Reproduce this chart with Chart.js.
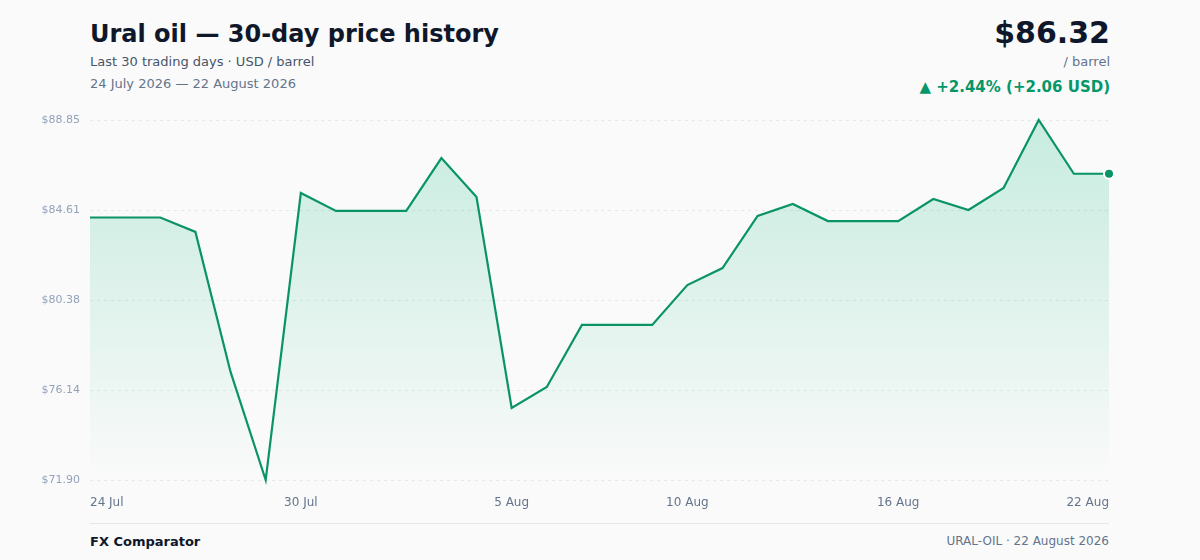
<!DOCTYPE html>
<html>
<head>
<meta charset="utf-8">
<script src="https://cdn.jsdelivr.net/npm/chart.js@4"></script>
<style>
  html, body { margin: 0; padding: 0; }
  body {
    width: 1200px; height: 560px; background: #fafafa; position: relative; overflow: hidden;
    font-family: "DejaVu Sans", sans-serif;
  }
  .title { position: absolute; left: 90px; top: 20px; font-size: 24px; font-weight: bold; color: #0f172a; }
  .sub { position: absolute; left: 90px; top: 54px; font-size: 13px; color: #475569; }
  .range { position: absolute; left: 90px; top: 76px; font-size: 13px; color: #64748b; }
  .price { position: absolute; right: 90px; top: 15px; font-size: 30px; font-weight: bold; color: #0f172a; }
  .unit { position: absolute; right: 90px; top: 54px; font-size: 13px; color: #64748b; }
  .change { position: absolute; right: 90px; top: 78px; font-size: 15px; font-weight: bold; color: #059669; }
  .chartBox { position: absolute; left: 0; top: 100px; width: 1200px; height: 420px; }
  .footer { position: absolute; left: 90px; width: 1019px; top: 523px; border-top: 1px solid #e5e7eb; }
  .brand { position: absolute; left: 0; top: 10px; font-size: 13px; font-weight: bold; color: #0f172a; }
  .stamp { position: absolute; right: 0; top: 10px; font-size: 12px; color: #64748b; }
</style>
</head>
<body>
  <div class="title">Ural oil — 30-day price history</div>
  <div class="sub">Last 30 trading days · USD / barrel</div>
  <div class="range">24 July 2026 — 22 August 2026</div>
  <div class="price">$86.32</div>
  <div class="unit">/ barrel</div>
  <div class="change">▲ +2.44% (+2.06 USD)</div>
  <div class="chartBox"><canvas id="priceChart"></canvas></div>
  <div class="footer">
    <div class="brand">FX Comparator</div>
    <div class="stamp">URAL-OIL · 22 August 2026</div>
  </div>

<script>
  // Data
  const days = [
    "24 Jul", "25 Jul", "26 Jul", "27 Jul", "28 Jul", "29 Jul", "30 Jul", "31 Jul",
    "1 Aug", "2 Aug", "3 Aug", "4 Aug", "5 Aug", "6 Aug", "7 Aug", "8 Aug", "9 Aug",
    "10 Aug", "11 Aug", "12 Aug", "13 Aug", "14 Aug", "15 Aug", "16 Aug", "17 Aug",
    "18 Aug", "19 Aug", "20 Aug", "21 Aug", "22 Aug"
  ];
  const prices = [
    84.26, 84.26, 84.26, 83.58, 76.99, 71.90, 85.41, 84.57, 84.57, 84.57,
    87.06, 85.22, 75.29, 76.28, 79.20, 79.20, 79.20, 81.08, 81.88, 84.33,
    84.90, 84.09, 84.09, 84.09, 85.13, 84.61, 85.65, 88.85, 86.32, 86.32
  ];
  const shownLabels = ["24 Jul", "30 Jul", "5 Aug", "10 Aug", "16 Aug", "22 Aug"];

  const GREEN = "#0a9465";
  const lo = Math.min(...prices);
  const hi = Math.max(...prices);

  const ctx = document.getElementById("priceChart").getContext("2d");

  new Chart(ctx, {
    type: "line",
    data: {
      labels: days,
      datasets: [{
        data: prices,
        borderColor: GREEN,
        borderWidth: 2.2,
        tension: 0,
        fill: "start",
        backgroundColor: (c) => {
          const area = c.chart.chartArea;
          if (!area) return "rgba(16,185,129,0.15)";
          const g = c.chart.ctx.createLinearGradient(0, area.top, 0, area.bottom);
          g.addColorStop(0, "rgba(16,185,129,0.22)");
          g.addColorStop(1, "rgba(16,185,129,0.0)");
          return g;
        },
        pointRadius: prices.map((_, i) => i === prices.length - 1 ? 5 : 0),
        pointBackgroundColor: GREEN,
        pointBorderColor: "#ffffff",
        pointBorderWidth: 2,
        clip: false
      }]
    },
    options: {
      responsive: true,
      maintainAspectRatio: false,
      animation: false,
      layout: { padding: { left: 0, right: 91, top: 20, bottom: 0 } },
      plugins: { legend: { display: false }, tooltip: { enabled: false } },
      scales: {
        x: {
          border: { display: false },
          grid: { display: false },
          afterFit: (s) => { s.height = 40; },
          ticks: {
            autoSkip: false,
            maxRotation: 0,
            align: "inner",
            padding: 8,
            color: "#64748b",
            font: { family: "DejaVu Sans", size: 12 },
            callback: function (v) {
              const lbl = this.getLabelForValue(v);
              return shownLabels.includes(lbl) ? lbl : null;
            }
          }
        },
        y: {
          min: lo,
          max: hi,
          border: { display: false, dash: [3, 4] },
          afterFit: (s) => { s.width = 90; },
          afterBuildTicks: (s) => {
            const step = (hi - lo) / 4;
            s.ticks = [0, 1, 2, 3, 4].map(k => ({ value: lo + k * step }));
          },
          grid: {
            color: "#e2e8f0",
            drawTicks: false
          },
          ticks: {
            padding: 10,
            color: "#94a3b8",
            font: { family: "DejaVu Sans", size: 11 },
            callback: (v) => "$" + v.toFixed(2)
          }
        }
      }
    }
  });
</script>
</body>
</html>
